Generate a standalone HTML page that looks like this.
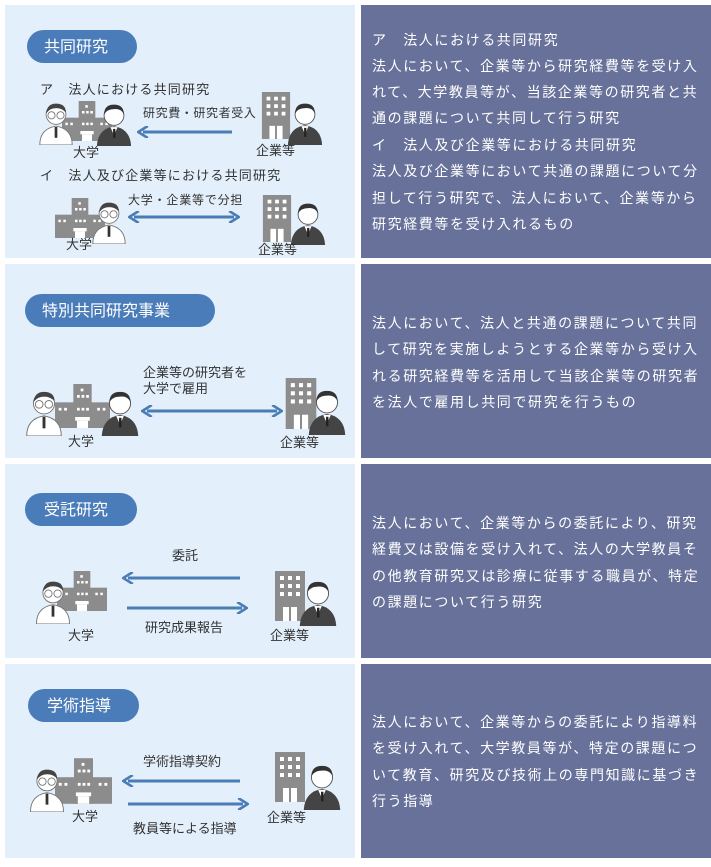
<!DOCTYPE html>
<html><head><meta charset="utf-8"><style>
body{margin:0;background:#fff;width:711px;height:862px;overflow:hidden}
svg text{font-family:"Liberation Sans","Noto Sans CJK JP",sans-serif}
</style></head><body>
<svg width="711" height="862" viewBox="0 0 711 862" xmlns="http://www.w3.org/2000/svg">
<defs>
<symbol id="uni" viewBox="0 0 60 48">
<rect x="20" y="0" width="20" height="48" fill="#8c8c8c"/>
<rect x="0" y="20" width="60" height="28" fill="#8c8c8c"/>
<g fill="#fff"><rect x="28" y="5" width="3" height="3"/><rect x="24" y="12" width="3" height="3"/><rect x="29" y="12" width="3" height="3"/><rect x="34" y="12" width="3" height="3"/>
<rect x="4" y="26" width="3" height="3"/><rect x="10" y="26" width="3" height="3"/><rect x="24" y="26" width="3" height="3"/><rect x="29" y="26" width="3" height="3"/><rect x="34" y="26" width="3" height="3"/><rect x="46" y="26" width="3" height="3"/><rect x="52" y="26" width="3" height="3"/>
<rect x="22" y="36" width="16" height="4"/><rect x="24" y="40" width="12" height="8"/></g>
</symbol>
<symbol id="prof" viewBox="0 0 40 50">
<path d="M2 50 Q2 32 20 29 Q38 32 38 50 Z" fill="#fff" stroke="#777" stroke-width="1"/>
<rect x="18.5" y="30" width="3" height="12" fill="#333"/>
<circle cx="20" cy="16" r="11" fill="#fff" stroke="#777" stroke-width="1"/>
<path d="M9 15 Q10 4 20 4 Q31 4 31 14 Q27 9 20 9 Q13 9 9 15Z" fill="#444"/>
<circle cx="15" cy="17" r="4" fill="none" stroke="#777"/><circle cx="25" cy="17" r="4" fill="none" stroke="#777"/>
</symbol>
<symbol id="biz" viewBox="0 0 40 50">
<path d="M1 50 Q2 31 20 28 Q38 31 39 50 Z" fill="#444"/>
<path d="M16 29 L20 38 L24 29Z" fill="#fff"/><rect x="19" y="31" width="2.5" height="10" fill="#222"/>
<circle cx="20" cy="16" r="11" fill="#fff" stroke="#555" stroke-width="1"/>
<path d="M9 15 Q9 4 20 4 Q31 4 31 15 Q28 8 20 9 Q12 9 9 15Z" fill="#333"/>
</symbol>
<symbol id="comp" viewBox="0 0 30 50">
<rect x="0" y="0" width="30" height="50" fill="#8c8c8c"/>
<g fill="#fff"><rect x="5" y="5" width="4" height="4"/><rect x="13" y="5" width="4" height="4"/><rect x="21" y="5" width="4" height="4"/>
<rect x="5" y="13" width="4" height="4"/><rect x="13" y="13" width="4" height="4"/><rect x="21" y="13" width="4" height="4"/>
<rect x="5" y="21" width="4" height="4"/><rect x="13" y="21" width="4" height="4"/><rect x="21" y="21" width="4" height="4"/>
<rect x="8" y="36" width="6" height="14"/><rect x="16" y="36" width="6" height="14"/></g>
</symbol>
<marker id="ah" viewBox="0 0 10 10" refX="5" refY="5" markerWidth="4" markerHeight="4" orient="auto-start-reverse"><path d="M1 0 L9 5 L1 10" fill="none" stroke="#4a7cb5" stroke-width="2.2"/></marker>
</defs>
<g fill="#e3effb"><rect x="5" y="5" width="350" height="253"/><rect x="5" y="264" width="350" height="194"/><rect x="5" y="464" width="350" height="194"/><rect x="5" y="664" width="350" height="194"/></g>
<g fill="#67719a"><rect x="361" y="5" width="350" height="253"/><rect x="361" y="264" width="350" height="194"/><rect x="361" y="464" width="350" height="194"/><rect x="361" y="664" width="350" height="194"/></g>
<g fill="#4a7cb9"><rect x="27" y="30" width="110" height="33" rx="16.5"/><rect x="25" y="294" width="190" height="33" rx="16.5"/><rect x="25" y="493" width="112" height="33" rx="16.5"/><rect x="28" y="689" width="111" height="33" rx="16.5"/></g>
<g fill="#fff" font-size="16"><text x="44" y="52">共同研究</text><text x="42" y="316">特別共同研究事業</text><text x="44" y="515">受託研究</text><text x="47" y="711">学術指導</text></g>
<g stroke="#4a7cb5" stroke-width="3" fill="none">
<line x1="232" y1="132" x2="143" y2="132" marker-end="url(#ah)"/>
<line x1="134" y1="217" x2="234" y2="217" marker-start="url(#ah)" marker-end="url(#ah)"/>
<line x1="147" y1="411" x2="277" y2="411" marker-start="url(#ah)" marker-end="url(#ah)"/>
<line x1="240" y1="578" x2="128" y2="578" marker-end="url(#ah)"/>
<line x1="127" y1="608" x2="242" y2="608" marker-end="url(#ah)"/>
<line x1="240" y1="781" x2="128" y2="781" marker-end="url(#ah)"/>
<line x1="128" y1="804" x2="243" y2="804" marker-end="url(#ah)"/>
</g>
<use href="#uni" x="62" y="100" width="50" height="42"/><use href="#prof" x="38" y="100" width="36" height="45"/><use href="#biz" x="96" y="101" width="36" height="45"/>
<use href="#comp" x="261" y="92" width="30" height="47"/><use href="#biz" x="287" y="100" width="36" height="45"/>
<use href="#uni" x="55" y="197" width="50" height="42"/><use href="#prof" x="91" y="199" width="36" height="45"/>
<use href="#comp" x="262" y="195" width="30" height="47"/><use href="#biz" x="290" y="200" width="36" height="45"/>
<use href="#uni" x="55" y="383" width="55" height="46"/><use href="#prof" x="24" y="388" width="40" height="48"/><use href="#biz" x="100" y="388" width="40" height="48"/>
<use href="#comp" x="285" y="378" width="32" height="51"/><use href="#biz" x="307" y="387" width="40" height="48"/>
<use href="#uni" x="57" y="570" width="50" height="42"/><use href="#prof" x="34" y="578" width="38" height="46"/>
<use href="#comp" x="275" y="571" width="30" height="50"/><use href="#biz" x="298" y="578" width="40" height="48"/>
<use href="#uni" x="55" y="758" width="57" height="46"/><use href="#prof" x="28" y="766" width="38" height="46"/>
<use href="#comp" x="274" y="752" width="32" height="50"/><use href="#biz" x="302" y="762" width="40" height="48"/>
<g fill="#333" font-size="13">
<text x="40" y="94" letter-spacing="1.2">ア　法人における共同研究</text>
<text x="143" y="117" font-size="12" letter-spacing="0.6">研究費・研究者受入</text>
<text x="73" y="157">大学</text><text x="256" y="155">企業等</text>
<text x="40" y="180" letter-spacing="1.2">イ　法人及び企業等における共同研究</text>
<text x="128" y="204" font-size="12" letter-spacing="0.8">大学・企業等で分担</text>
<text x="66" y="249">大学</text><text x="258" y="254">企業等</text>
<text x="143" y="377">企業等の研究者を</text><text x="143" y="393">大学で雇用</text>
<text x="68" y="446">大学</text><text x="280" y="447">企業等</text>
<text x="172" y="560">委託</text><text x="145" y="632">研究成果報告</text>
<text x="68" y="640">大学</text><text x="270" y="640">企業等</text>
<text x="143" y="766">学術指導契約</text><text x="133" y="833">教員等による指導</text>
<text x="72" y="821">大学</text><text x="267" y="822">企業等</text>
</g>
<g fill="#fff" font-size="14" letter-spacing="1.6">
<text x="372" y="45">ア　法人における共同研究</text>
<text x="372" y="71">法人において、企業等から研究経費等を受け入</text>
<text x="372" y="97">れて、大学教員等が、当該企業等の研究者と共</text>
<text x="372" y="123">通の課題について共同して行う研究</text>
<text x="372" y="150">イ　法人及び企業等における共同研究</text>
<text x="372" y="176">法人及び企業等において共通の課題について分</text>
<text x="372" y="203">担して行う研究で、法人において、企業等から</text>
<text x="372" y="229">研究経費等を受け入れるもの</text>
<text x="372" y="328">法人において、法人と共通の課題について共同</text>
<text x="372" y="354">して研究を実施しようとする企業等から受け入</text>
<text x="372" y="381">れる研究経費等を活用して当該企業等の研究者</text>
<text x="372" y="407">を法人で雇用し共同で研究を行うもの</text>
<text x="372" y="528">法人において、企業等からの委託により、研究</text>
<text x="372" y="554">経費又は設備を受け入れて、法人の大学教員そ</text>
<text x="372" y="581">の他教育研究又は診療に従事する職員が、特定</text>
<text x="372" y="607">の課題について行う研究</text>
<text x="372" y="727">法人において、企業等からの委託により指導料</text>
<text x="372" y="753">を受け入れて、大学教員等が、特定の課題につ</text>
<text x="372" y="780">いて教育、研究及び技術上の専門知識に基づき</text>
<text x="372" y="806">行う指導</text>
</g>
</svg>
</body></html>
